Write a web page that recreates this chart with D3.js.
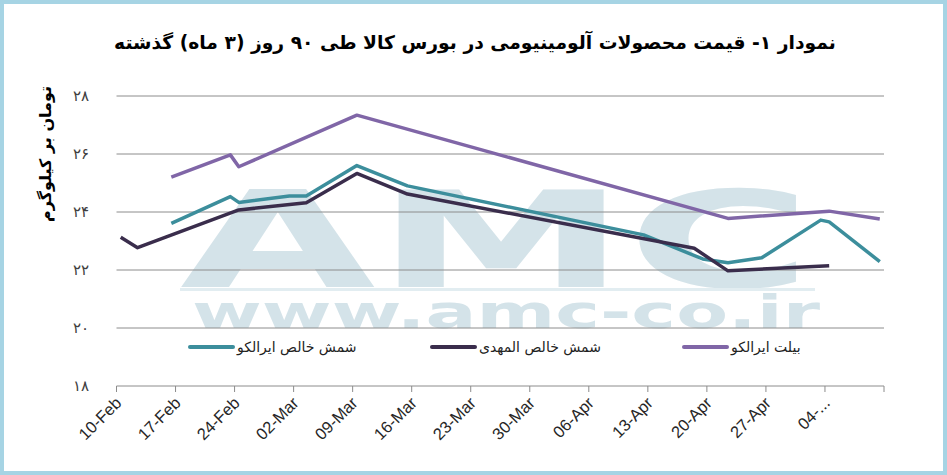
<!DOCTYPE html>
<html>
<head>
<meta charset="utf-8">
<script src="https://cdn.jsdelivr.net/npm/d3@7"></script>
<style>
  body { margin: 0; background: #fff; }
  svg { display: block; }
</style>
</head>
<body>
<svg id="chart" width="947" height="475"></svg>
<script>
// values (toman per kg), dated by day
const ircoPureDates = ['2020-02-16', '2020-02-23', '2020-02-24', '2020-03-01', '2020-03-03', '2020-03-09', '2020-03-15', '2020-04-12', '2020-04-19', '2020-04-22', '2020-04-26', '2020-05-03', '2020-05-04', '2020-05-10'];
const ircoPureValues = [23.61, 24.53, 24.33, 24.55, 24.55, 25.6, 24.9, 23.21, 22.38, 22.25, 22.42, 23.72, 23.66, 22.29];

const mahdiDates = ['2020-02-10', '2020-02-12', '2020-02-24', '2020-03-03', '2020-03-09', '2020-03-15', '2020-04-18', '2020-04-22', '2020-05-04'];
const mahdiValues = [23.13, 22.77, 24.07, 24.32, 25.33, 24.62, 22.75, 21.97, 22.15];

const billetDates = ['2020-02-16', '2020-02-23', '2020-02-24', '2020-03-09', '2020-04-22', '2020-05-04', '2020-05-10'];
const billetValues = [25.2, 25.97, 25.56, 27.34, 23.78, 24.03, 23.76];

const seriesNames = ['شمش خالص ایرالکو', 'شمش خالص المهدی', 'بیلت ایرالکو'];
const seriesColors = ['#3c8e9c', '#3a2d4c', '#8066a7'];
const yTicks = [18, 20, 22, 24, 26, 28];
const axisStart = '2020-02-10';
const title = 'نمودار ۱- قیمت محصولات آلومینیومی در بورس کالا طی ۹۰ روز (۳ ماه) گذشته';
const yTitle = 'تومان بر کیلوگرم';

const W = 947, H = 475;
const plotLeft = 116.5, plotRight = 884, plotTop = 96, plotBottom = 386;
const svg = d3.select('#chart');

svg.append('rect')
  .attr('x', 2).attr('y', 2).attr('width', W - 4).attr('height', H - 4)
  .attr('fill', '#fff').attr('stroke', '#a6d4e4').attr('stroke-width', 4);

const parse = d3.timeParse('%Y-%m-%d');
const start = parse(axisStart);
const end = d3.timeDay.offset(start, 91);
const x = d3.scaleTime().domain([start, end]).range([plotLeft, plotRight]);
const y = d3.scaleLinear().domain([18, 28]).range([plotBottom, plotTop]);
// each day sits in the middle of its slot
const dayMid = (s) => d3.timeHour.offset(parse(s), 12);
const fa = (n) => String(n).replace(/\d/g, (c) => '۰۱۲۳۴۵۶۷۸۹'[c]);

// watermark
const wm = svg.append('g').attr('fill', '#d4e3e9').attr('font-family', 'DejaVu Sans').attr('font-weight', 'bold');
wm.append('text')
  .attr('x', 180).attr('y', 287)
  .attr('font-size', 134)
  .attr('textLength', 632).attr('lengthAdjust', 'spacingAndGlyphs')
  .text('AMC');
wm.append('rect').attr('x', 180).attr('y', 288).attr('width', 635).attr('height', 3).attr('fill', '#e2edf1');
wm.append('text')
  .attr('x', 192).attr('y', 328)
  .attr('font-size', 46)
  .attr('textLength', 628).attr('lengthAdjust', 'spacingAndGlyphs')
  .text('www.amc-co.ir');

// grid
svg.append('g')
  .selectAll('line')
  .data(yTicks.slice(1))
  .join('line')
  .attr('x1', plotLeft).attr('x2', plotRight)
  .attr('y1', (d) => y(d)).attr('y2', (d) => y(d))
  .attr('stroke', '#8c8c8c').attr('stroke-width', 1);

svg.append('g')
  .selectAll('text')
  .data(yTicks)
  .join('text')
  .attr('x', 89).attr('y', (d) => y(d))
  .attr('dy', '0.35em')
  .attr('text-anchor', 'end')
  .attr('font-family', 'DejaVu Sans').attr('font-size', 15).attr('fill', '#404040')
  .text((d) => fa(d));

svg.append('text')
  .attr('transform', 'translate(45,154) rotate(-90)')
  .attr('text-anchor', 'middle')
  .attr('direction', 'rtl')
  .attr('dy', '0.35em')
  .attr('font-family', 'DejaVu Sans').attr('font-weight', 'bold').attr('font-size', 16)
  .text(yTitle);

// x axis
const xTicks = d3.range(14).map((i) => d3.timeDay.offset(start, 7 * i));
const fmt = d3.timeFormat('%d-%b');
const xAxis = svg.append('g');
xAxis.append('line')
  .attr('x1', plotLeft).attr('x2', plotRight).attr('y1', plotBottom).attr('y2', plotBottom)
  .attr('stroke', '#8c8c8c');
xAxis.selectAll('line.tick')
  .data(xTicks)
  .join('line')
  .attr('class', 'tick')
  .attr('x1', (d) => x(d)).attr('x2', (d) => x(d))
  .attr('y1', plotBottom).attr('y2', plotBottom + 6)
  .attr('stroke', '#8c8c8c');
xAxis.selectAll('text')
  .data(xTicks.slice(0, 13))
  .join('text')
  .attr('transform', (d) => `translate(${x(d) + 2},${plotBottom + 14}) rotate(-45)`)
  .attr('text-anchor', 'end')
  .attr('dy', '0.35em')
  .attr('font-family', 'Liberation Sans').attr('font-size', 16.5).attr('fill', '#262626')
  .text((d, i) => (i === 12 ? fmt(d).slice(0, 3) + '...' : fmt(d)));

// lines
const series = [
  ircoPureDates.map((d, i) => ({ date: dayMid(d), value: ircoPureValues[i] })),
  mahdiDates.map((d, i) => ({ date: dayMid(d), value: mahdiValues[i] })),
  billetDates.map((d, i) => ({ date: dayMid(d), value: billetValues[i] })),
];
const line = d3.line().x((d) => x(d.date)).y((d) => y(d.value));
series.forEach((s, idx) => {
  svg.append('path')
    .attr('d', line(s))
    .attr('fill', 'none')
    .attr('stroke', seriesColors[idx])
    .attr('stroke-width', 3.5)
    .attr('stroke-linejoin', 'round');
});

// legend
const legendX = [190, 432, 684];
const legend = svg.append('g');
seriesNames.forEach((name, idx) => {
  legend.append('line')
    .attr('x1', legendX[idx]).attr('x2', legendX[idx] + 43)
    .attr('y1', 347).attr('y2', 347)
    .attr('stroke', seriesColors[idx]).attr('stroke-width', 4).attr('stroke-linecap', 'round');
  legend.append('text')
    .attr('x', legendX[idx] + 47).attr('y', 347)
    .attr('dy', '0.35em')
    .attr('font-family', 'DejaVu Sans').attr('font-size', 14).attr('fill', '#222')
    .text(name);
});

// title, fitted to the reference width
const t = svg.append('text')
  .attr('x', 475).attr('y', 42)
  .attr('dy', '0.35em')
  .attr('text-anchor', 'middle')
  .attr('direction', 'rtl')
  .attr('font-family', 'DejaVu Sans').attr('font-weight', 'bold').attr('font-size', 20)
  .text(title);
const tw = t.node().getComputedTextLength();
if (tw > 0) t.attr('font-size', Math.min(26, 20 * 722 / tw));
</script>
</body>
</html>
